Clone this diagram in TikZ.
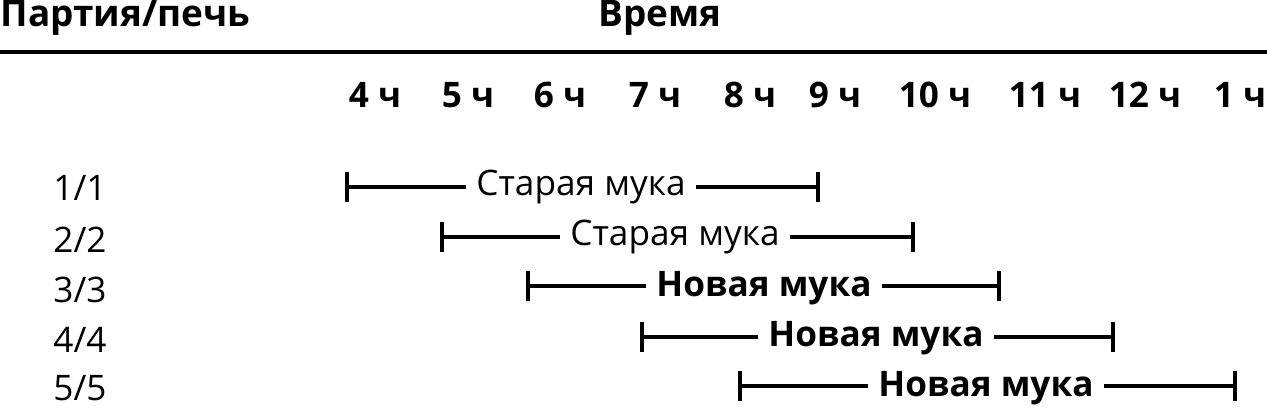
\documentclass[tikz,border=0pt]{standalone}
\usepackage{fontspec}
\setmainfont{Open Sans}
\usetikzlibrary{positioning}
\tikzset{%
	head/.style={font=\bfseries\fontsize{10.5}{12}\selectfont, inner sep=0pt},
	hour/.style={font=\bfseries\fontsize{10}{12}\selectfont, inner sep=0pt},
	batch/.style={font=\fontsize{10}{12}\selectfont, inner sep=0pt},
	old/.style={font=\fontsize{10}{12}\selectfont, fill=white, inner xsep=3pt, inner ysep=1pt},
	new/.style={font=\bfseries\fontsize{10}{12}\selectfont, fill=white, inner xsep=3pt, inner ysep=1pt},
	bar/.style={line width=1.1pt, |-|}
}
\begin{document}
\begin{tikzpicture}[x=0.01cm, y=-0.01cm]
	\useasboundingbox (0,0) rectangle (1267,410);
	\node[head, anchor=west] (party) at (0,18) {Партия/печь};
	\node[head] (time) at (660,18) {Время};
	\coordinate (ruleL) at (0,52);
	\coordinate (ruleR) at (1267,52);
	\draw[line width=1.4pt] (ruleL) -- (ruleR);

	\foreach \x/\t in {375/4, 468/5, 560/6, 655/7, 750/8, 835/9, 935/10, 1045/11, 1145/12, 1240/1}
		\node[hour] (h\t) at (\x,95) {\t\ ч};

	\node[batch] (b1) at (80,188) {1/1};
	\node[batch] (b2) at (80,240) {2/2};
	\node[batch] (b3) at (80,290) {3/3};
	\node[batch] (b4) at (80,340) {4/4};
	\node[batch] (b5) at (80,388) {5/5};

	\coordinate (s1) at (345,187); \coordinate (e1) at (820,187);
	\coordinate (s2) at (440,237); \coordinate (e2) at (915,237);
	\coordinate (s3) at (526,286); \coordinate (e3) at (1001,286);
	\coordinate (s4) at (640,337); \coordinate (e4) at (1115,337);
	\coordinate (s5) at (738,386); \coordinate (e5) at (1237,386);

	\draw[bar] (s1) -- (e1);
	\draw[bar] (s2) -- (e2);
	\draw[bar] (s3) -- (e3);
	\draw[bar] (s4) -- (e4);
	\draw[bar] (s5) -- (e5);

	\node[old] (f1) at (581,187) {Старая мука};
	\node[old] (f2) at (675,237) {Старая мука};
	\node[new] (f3) at (764,288) {Новая мука};
	\node[new] (f4) at (876,338) {Новая мука};
	\node[new] (f5) at (986,388) {Новая мука};
\end{tikzpicture}
\end{document}
